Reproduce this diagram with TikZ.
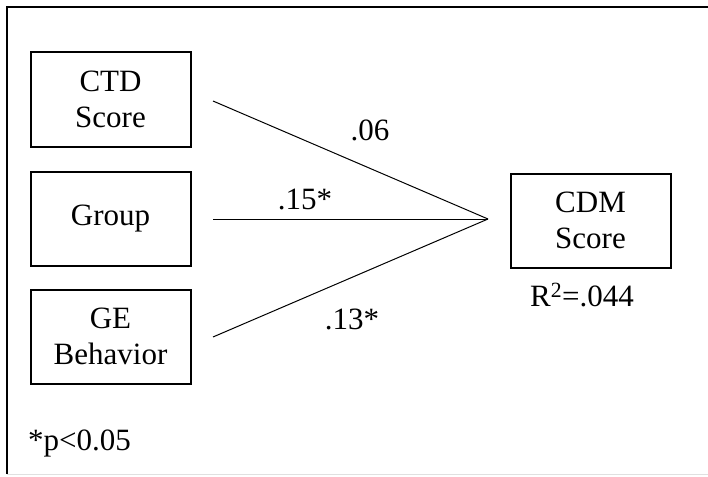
\documentclass[tikz,border=0pt]{standalone}
\usepackage{fontspec}
\setmainfont{Liberation Serif}
\begin{document}
\begin{tikzpicture}[x=1pt,y=-1pt,
  box/.style={draw=black,line width=2pt,minimum width=160pt,minimum height=94pt,align=center,inner sep=0pt,font=\fontsize{31}{36}\selectfont},
  lbl/.style={inner sep=0pt,font=\fontsize{31}{36}\selectfont},
  conn/.style={draw=black,line width=1pt}]
\useasboundingbox (0,0) rectangle (708,476);
\draw[line width=2pt] (7,474) -- (7,7) -- (712,7);
\draw[line width=1pt,black!12] (7,474) -- (712,474);
\node[box] (ctd) at (110.5,99.5) {CTD\\Score};
\node[box] (grp) at (110.5,218.5) {Group};
\node[box] (ge) at (110.5,336.5) {GE\\Behavior};
\node[box] (cdm) at (590.5,220.5) {CDM\\Score};
\coordinate (v) at (488,219);
\coordinate (s1) at (213,101);
\coordinate (s2) at (213,219);
\coordinate (s3) at (213,337);
\draw[conn] (s1) -- (v);
\draw[conn] (s2) -- (v);
\draw[conn] (s3) -- (v);
\node[lbl] (l1) at (370,130) {.06};
\node[lbl] (l2) at (305,199) {.15*};
\node[lbl] (l3) at (352,319) {.13*};
\node[lbl] (r2) at (582,295) {R\textsuperscript{2}=.044};
\node[lbl,anchor=west] (p) at (28,443) {*p<0.05};
\end{tikzpicture}
\end{document}
